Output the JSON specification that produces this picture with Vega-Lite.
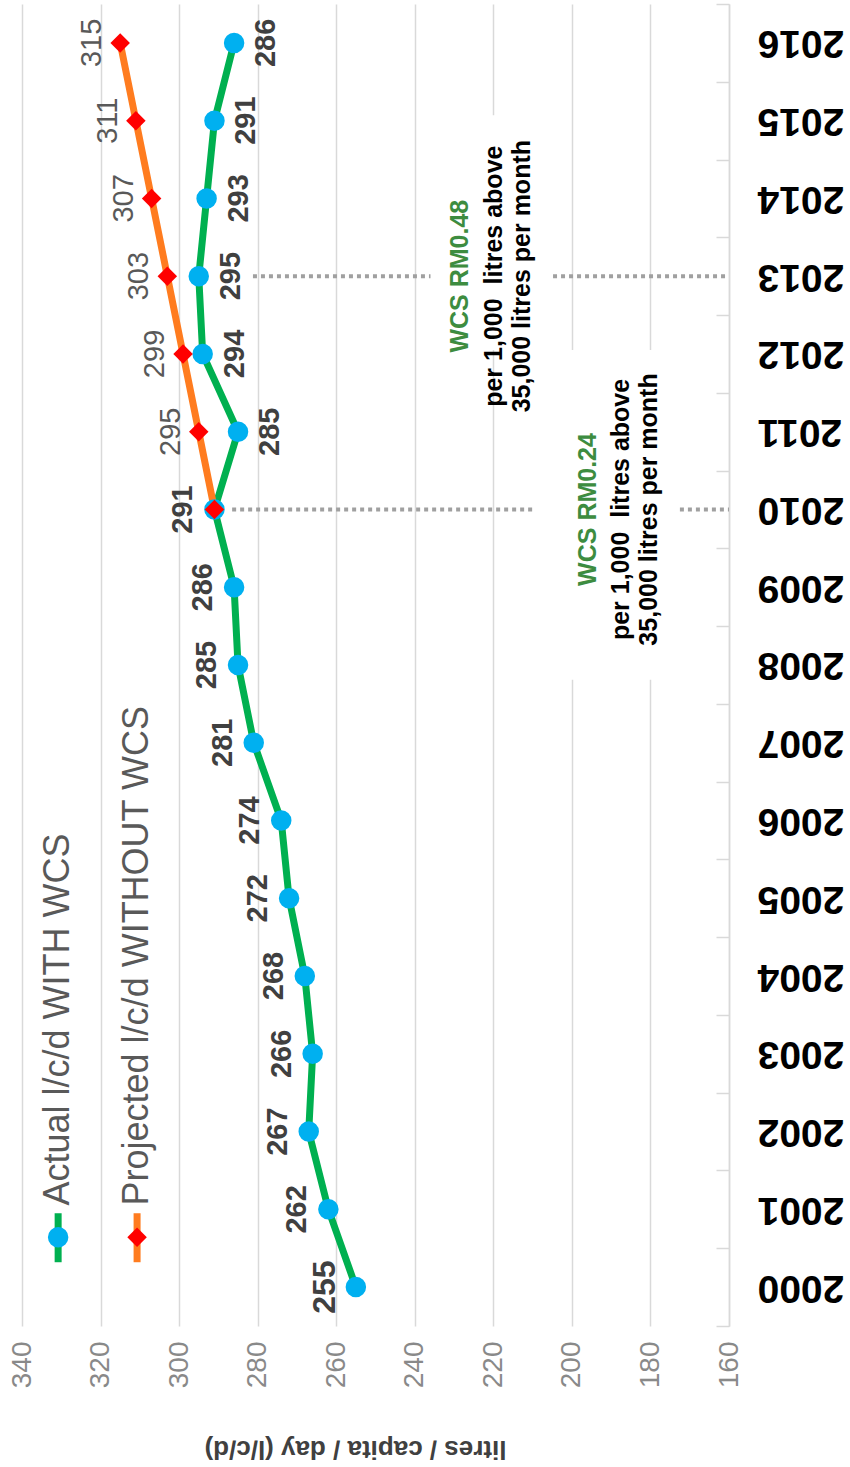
{
  "$schema": "https://vega.github.io/schema/vega-lite/v6.json",
  "width": 707,
  "height": 1322,
  "autosize": {"type": "none"},
  "padding": {"left": 22, "top": 4, "right": 121, "bottom": 141},
  "background": "white",
  "config": {"view": {"stroke": null}, "font": "Liberation Sans"},
  "datasets": {
    "series": [
      {"year": 2000, "value": 255, "series": "Actual"},
      {"year": 2001, "value": 262, "series": "Actual"},
      {"year": 2002, "value": 267, "series": "Actual"},
      {"year": 2003, "value": 266, "series": "Actual"},
      {"year": 2004, "value": 268, "series": "Actual"},
      {"year": 2005, "value": 272, "series": "Actual"},
      {"year": 2006, "value": 274, "series": "Actual"},
      {"year": 2007, "value": 281, "series": "Actual"},
      {"year": 2008, "value": 285, "series": "Actual"},
      {"year": 2009, "value": 286, "series": "Actual"},
      {"year": 2010, "value": 291, "series": "Actual"},
      {"year": 2011, "value": 285, "series": "Actual"},
      {"year": 2012, "value": 294, "series": "Actual"},
      {"year": 2013, "value": 295, "series": "Actual"},
      {"year": 2014, "value": 293, "series": "Actual"},
      {"year": 2015, "value": 291, "series": "Actual"},
      {"year": 2016, "value": 286, "series": "Actual"},
      {"year": 2010, "value": 291, "series": "Projected"},
      {"year": 2011, "value": 295, "series": "Projected"},
      {"year": 2012, "value": 299, "series": "Projected"},
      {"year": 2013, "value": 303, "series": "Projected"},
      {"year": 2014, "value": 307, "series": "Projected"},
      {"year": 2015, "value": 311, "series": "Projected"},
      {"year": 2016, "value": 315, "series": "Projected"}
    ],
    "dots": [
      {"year": 2010, "value": 286.5, "value2": 209.4},
      {"year": 2010, "value": 172.5, "value2": 160},
      {"year": 2013, "value": 281.2, "value2": 236},
      {"year": 2013, "value": 204.8, "value2": 160}
    ],
    "boxes": [
      {"value": 203, "value2": 176.3, "year": 2007.81, "year2": 2012.05},
      {"value": 233.6, "value2": 206.9, "year": 2012.05, "year2": 2015.07}
    ],
    "heads": [
      {"value": 195.9, "year": 2010, "text": "WCS RM0.24"},
      {"value": 228.5, "year": 2013, "text": "WCS RM0.48"}
    ],
    "bodies": [
      {"value": 187.4, "year": 2010, "text": "per 1,000\u00a0 litres above\n35,000 litres per month"},
      {"value": 219.9, "year": 2013, "text": "per 1,000\u00a0 litres above\n35,000 litres per month"}
    ],
    "legendRules": [
      {"value": 330.8, "year": 2000.32, "year2": 2000.95, "series": "Actual"},
      {"value": 310.7, "year": 2000.32, "year2": 2000.95, "series": "Projected"}
    ],
    "legendPoints": [
      {"value": 330.8, "year": 2000.64, "series": "Actual"},
      {"value": 310.7, "year": 2000.64, "series": "Projected"}
    ],
    "legendText": [
      {"value": 330.8, "year": 2001.05, "text": "Actual l/c/d WITH WCS"},
      {"value": 310.7, "year": 2001.05, "text": "Projected l/c/d WITHOUT WCS"}
    ]
  },
  "encoding": {
    "x": {
      "field": "value",
      "type": "quantitative",
      "scale": {"domain": [160, 340], "reverse": true, "nice": false, "zero": false},
      "axis": {
        "orient": "bottom",
        "values": [160, 180, 200, 220, 240, 260, 280, 300, 320, 340],
        "title": "litres / capita / day (l/c/d)",
        "labelAngle": -90,
        "labelFontSize": 28,
        "labelColor": "#898989",
        "labelPadding": 15,
        "labelFlush": false,
        "labelOverlap": false,
        "ticks": false,
        "domain": false,
        "grid": true,
        "gridColor": "#d9d9d9",
        "gridWidth": 1.5,
        "titleAngle": 180,
        "titleFontSize": 26,
        "titleFontWeight": "bold",
        "titleColor": "#404040",
        "titleX": 333,
        "titleY": 122,
        "titleAlign": "center",
        "titleBaseline": "middle"
      }
    },
    "y": {
      "field": "year",
      "type": "quantitative",
      "scale": {"domain": [1999.5, 2016.5], "nice": false, "zero": false},
      "axis": {
        "orient": "right",
        "title": null,
        "values": [1999.5, 2000.5, 2001.5, 2002.5, 2003.5, 2004.5, 2005.5, 2006.5, 2007.5, 2008.5, 2009.5, 2010.5, 2011.5, 2012.5, 2013.5, 2014.5, 2015.5, 2016.5],
        "labelExpr": "datum.value > 2016 ? '' : format(datum.value + 0.5, 'd')",
        "labelOffset": -38.9,
        "labelAngle": 180,
        "labelAlign": "right",
        "labelBaseline": "middle",
        "labelFontSize": 39,
        "labelFontWeight": "bold",
        "labelColor": "#000000",
        "labelPadding": 41,
        "labelOverlap": false,
        "labelBound": false,
        "labelFlush": false,
        "tickSize": -13,
        "tickColor": "#d9d9d9",
        "tickWidth": 1.5,
        "domainColor": "#d9d9d9",
        "domainWidth": 1.5,
        "grid": false
      }
    }
  },
  "layer": [
    {
      "data": {"name": "boxes"},
      "mark": {"type": "rect", "fill": "white"},
      "encoding": {"x2": {"field": "value2"}, "y2": {"field": "year2"}}
    },
    {
      "data": {"name": "dots"},
      "mark": {"type": "rule", "stroke": "#a0a0a0", "strokeWidth": 4, "strokeDash": [4, 4]},
      "encoding": {"x2": {"field": "value2"}}
    },
    {
      "data": {"name": "series"},
      "mark": {"type": "line", "strokeWidth": 7},
      "encoding": {
        "color": {"field": "series", "type": "nominal", "scale": {"domain": ["Actual", "Projected"], "range": ["#00b050", "#ff7c1f"]}, "legend": null},
        "order": {"field": "year"}
      }
    },
    {
      "data": {"name": "series"},
      "transform": [{"filter": "datum.series == 'Actual'"}],
      "mark": {"type": "point", "shape": "circle", "filled": true, "fill": "#00b0f0", "opacity": 1, "size": 420, "strokeWidth": 0}
    },
    {
      "data": {"name": "series"},
      "transform": [{"filter": "datum.series == 'Projected'"}],
      "mark": {"type": "point", "shape": "diamond", "filled": true, "fill": "#ff0000", "opacity": 1, "size": 380, "strokeWidth": 0}
    },
    {
      "data": {"name": "series"},
      "transform": [{"filter": "datum.series == 'Actual' && datum.year <= 2010"}],
      "mark": {"type": "text", "angle": 270, "align": "center", "baseline": "middle", "dy": -31, "fontWeight": "bold", "fill": "#404040"},
      "encoding": {
        "text": {"field": "value", "type": "quantitative", "format": "d"},
        "size": {"condition": {"test": "datum.year == 2000", "value": 32}, "value": 29}
      }
    },
    {
      "data": {"name": "series"},
      "transform": [{"filter": "datum.series == 'Actual' && datum.year >= 2011"}],
      "mark": {"type": "text", "angle": 270, "align": "center", "baseline": "middle", "dy": 32, "fontWeight": "bold", "fill": "#404040", "fontSize": 29},
      "encoding": {"text": {"field": "value", "type": "quantitative", "format": "d"}}
    },
    {
      "data": {"name": "series"},
      "transform": [{"filter": "datum.series == 'Projected' && datum.year >= 2011"}],
      "mark": {"type": "text", "angle": 270, "align": "center", "baseline": "middle", "dy": -28, "fill": "#595959", "fontSize": 29},
      "encoding": {"text": {"field": "value", "type": "quantitative", "format": "d"}}
    },
    {
      "data": {"name": "heads"},
      "mark": {"type": "text", "angle": 270, "align": "center", "baseline": "middle", "fontWeight": "bold", "fill": "#3d8c40", "fontSize": 25},
      "encoding": {"text": {"field": "text", "type": "nominal"}}
    },
    {
      "data": {"name": "bodies"},
      "mark": {"type": "text", "angle": 270, "align": "center", "baseline": "middle", "fontWeight": "bold", "fill": "#000000", "fontSize": 25, "lineBreak": "\n", "lineHeight": 28},
      "encoding": {"text": {"field": "text", "type": "nominal"}}
    },
    {
      "data": {"name": "legendRules"},
      "mark": {"type": "rule", "strokeWidth": 7},
      "encoding": {
        "y2": {"field": "year2"},
        "color": {"field": "series", "type": "nominal", "scale": {"domain": ["Actual", "Projected"], "range": ["#00b050", "#ff7c1f"]}, "legend": null}
      }
    },
    {
      "data": {"name": "legendPoints"},
      "transform": [{"filter": "datum.series == 'Actual'"}],
      "mark": {"type": "point", "shape": "circle", "filled": true, "fill": "#00b0f0", "opacity": 1, "size": 420, "strokeWidth": 0}
    },
    {
      "data": {"name": "legendPoints"},
      "transform": [{"filter": "datum.series == 'Projected'"}],
      "mark": {"type": "point", "shape": "diamond", "filled": true, "fill": "#ff0000", "opacity": 1, "size": 380, "strokeWidth": 0}
    },
    {
      "data": {"name": "legendText"},
      "mark": {"type": "text", "angle": 270, "align": "left", "baseline": "middle", "fill": "#595959", "fontSize": 36},
      "encoding": {"text": {"field": "text", "type": "nominal"}}
    }
  ]
}
